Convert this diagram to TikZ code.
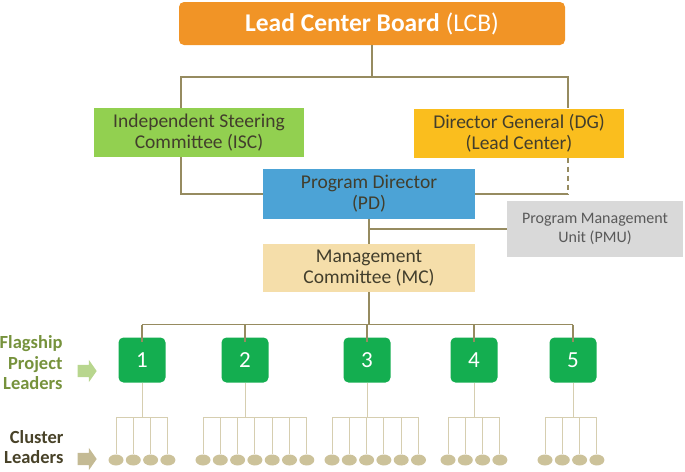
\documentclass[tikz,border=0pt]{standalone}
\usepackage{fontspec}
\setmainfont{Carlito}
\definecolor{lcborange}{RGB}{241,148,38}
\definecolor{iscgreen}{RGB}{146,208,80}
\definecolor{dggold}{RGB}{250,190,30}
\definecolor{pdblue}{RGB}{76,163,214}
\definecolor{mcwheat}{RGB}{245,222,170}
\definecolor{pmugray}{RGB}{217,217,217}
\definecolor{fpgreen}{RGB}{20,174,80}
\definecolor{boxtext}{RGB}{66,62,44}
\definecolor{pmutext}{RGB}{89,89,89}
\definecolor{linkolive}{RGB}{150,139,96}
\definecolor{linklight}{RGB}{214,206,176}
\definecolor{clustertan}{RGB}{204,194,154}
\definecolor{fptext}{RGB}{118,146,60}
\definecolor{cltext}{RGB}{72,66,40}
\definecolor{fparrow}{RGB}{184,214,142}
\definecolor{clarrow}{RGB}{196,186,148}
\usepackage{tikz}
\usetikzlibrary{positioning,shapes.arrows,shapes.geometric}

\begin{document}
\begin{tikzpicture}[x=1pt,y=-1pt,
      bx/.style={minimum width=210pt,minimum height=49pt,inner sep=1pt,align=center,
                 text=boxtext,font=\fontsize{19.5}{21}\selectfont},
      fp/.style={fill=fpgreen,rounded corners=5pt,minimum width=47pt,minimum height=45pt,
                 text=white,font=\fontsize{23}{23}\selectfont},
      cl/.style={ellipse,fill=clustertan,minimum width=15pt,minimum height=11pt,inner sep=0pt},
      ln/.style={draw=linkolive,line width=1.3pt},
      lt/.style={draw=linklight,line width=1pt},
      lbl/.style={align=right,font=\bfseries\fontsize{18.5}{20.5}\selectfont},
      ar/.style={single arrow,inner xsep=4pt,inner ysep=6pt,minimum height=19pt,
                 single arrow head extend=5pt,single arrow tip angle=110}]
  \useasboundingbox (0,0) rectangle (685,471);
  \coordinate (jl) at (181,77);
  \coordinate (jr) at (568,77);
  \coordinate (fb) at (0,324.5);
  \coordinate (cb) at (0,417);

  % top of the tree
  \node[bx,fill=lcborange,rounded corners=5pt,minimum width=386pt,minimum height=43pt,
        text=white,font=\fontsize{25.5}{25.5}\selectfont] (lcb) at (372,23.5)
        {\textbf{Lead Center Board} (LCB)};
  \node[bx,fill=iscgreen] (isc) at (199,132.5) {Independent Steering\\Committee (ISC)};
  \node[bx,fill=dggold] (dg) at (519,133) {Director General (DG)\\(Lead Center)};
  \node[bx,fill=pdblue,minimum width=212pt,minimum height=50pt] (pd) at (369,194)
        {Program Director\\(PD)};
  \node[bx,fill=mcwheat,minimum width=212pt,minimum height=48pt] (mc) at (369,268)
        {Management\\Committee (MC)};
  \node[bx,fill=pmugray,minimum width=176pt,minimum height=56pt,text=pmutext,
        font=\fontsize{16}{18.5}\selectfont] (pmu) at (595,229)
        {Program Management\\Unit (PMU)};

  \draw[ln] (lcb.south) -- (lcb.south |- jl);
  \draw[ln] (isc.north -| jl) -- (jl) -- (jr) -- (dg.north -| jr);
  \draw[ln] (isc.south -| jl) |- (pd.west);
  \draw[ln,dash pattern=on 5pt off 4pt] (dg.south -| jr) -- (jr |- pd.east);
  \draw[ln] (jr |- pd.east) -- (pd.east);
  \draw[ln] (pd) -- (mc);
  \draw[ln] (pmu.west) -- (pmu.west -| pd.south);

  % flagship projects
  \foreach \i/\x in {1/142,2/245,3/367,4/474,5/573}
    \node[fp] (f\i) at (\x,360) {\i};
  \draw[ln] (mc) -- (mc |- fb);
  \draw[ln] (f1 |- fb) -- (f5 |- fb);
  \foreach \i in {1,...,5}
    \draw[ln] (f\i |- fb) -- ([yshift=-5pt]f\i.north);

  % clusters
  \foreach \g/\x/\n in {1/116/4,2/203/7,3/332/6,4/448/4,5/545/4} {
    \foreach \k in {1,...,\n}
      \node[cl] (c\g-\k) at ({\x+17.3*(\k-1)},460) {};
    \draw[lt] (c\g-1 |- cb) -- (c\g-\n |- cb);
    \foreach \k in {1,...,\n}
      \draw[lt] (c\g-\k |- cb) -- (c\g-\k);
    \draw[lt] (f\g) -- (f\g |- cb);
  }

  \node[lbl,text=fptext,anchor=east] (fpl) at (66,363) {Flagship\\Project\\Leaders};
  \node[ar,fill=fparrow] (fpa) at (85,371) {};
  \node[lbl,text=cltext,anchor=east] (cll) at (67,447) {Cluster\\Leaders};
  \node[ar,fill=clarrow] (cla) at (85,459) {};
\end{tikzpicture}
\end{document}
